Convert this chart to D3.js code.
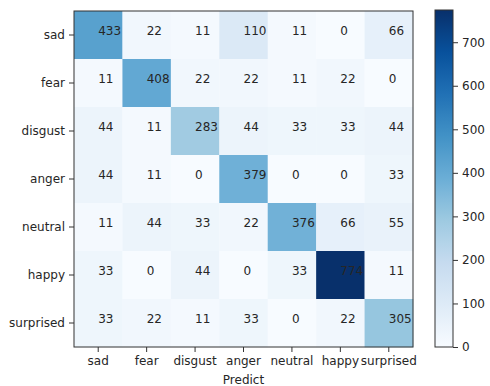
<!DOCTYPE html>
<html>
<head>
<meta charset="utf-8">
<script src="https://cdn.jsdelivr.net/npm/d3@7"></script>
<style>
  html, body { margin: 0; padding: 0; background: #fff; }
  svg { display: block; font-family: "DejaVu Sans", sans-serif; }
</style>
</head>
<body>
<svg id="chart" width="490" height="386"></svg>
<script>
// Emotion classes (true rows, predicted columns)
const labels = ["sad", "fear", "disgust", "anger", "neutral", "happy", "surprised"];

// Confusion-matrix counts, one array per true class
const sadRow       = [433, 22, 11, 110, 11, 0, 66];
const fearRow      = [11, 408, 22, 22, 11, 22, 0];
const disgustRow   = [44, 11, 283, 44, 33, 33, 44];
const angerRow     = [44, 11, 0, 379, 0, 0, 33];
const neutralRow   = [11, 44, 33, 22, 376, 66, 55];
const happyRow     = [33, 0, 44, 0, 33, 774, 11];
const surprisedRow = [33, 22, 11, 33, 0, 22, 305];

const colorbarTicks = [0, 100, 200, 300, 400, 500, 600, 700];
const xTitle = "Predict";

const matrix = [sadRow, fearRow, disgustRow, angerRow, neutralRow, happyRow, surprisedRow];
const cells = [];
matrix.forEach((row, i) => row.forEach((v, j) => cells.push({ r: labels[i], c: labels[j], v })));

const vmax = d3.max(cells, d => d.v);

// Blues ramp, interpolated linearly between the 9 ColorBrewer stops
const blues = d3.schemeBlues[9];
const stopScale = d3.scaleLinear().domain(d3.range(9).map(k => k / 8)).range(blues)
  .interpolate(d3.interpolateRgb).clamp(true);
const color = v => stopScale(v / vmax);

const svg = d3.select("#chart");
const L = 74, R = 413, T = 11, B = 347;
const textColor = "#262626";
const fontSize = 12;

const x = d3.scaleBand().domain(labels).range([L, R]);
const y = d3.scaleBand().domain(labels).range([T, B]);

// Heatmap cells
svg.append("g").selectAll("rect").data(cells).join("rect")
  .attr("x", d => x(d.c)).attr("y", d => y(d.r))
  .attr("width", x.bandwidth() + 0.3).attr("height", y.bandwidth() + 0.3)
  .attr("fill", d => color(d.v));

// Cell values: left edge and baseline sit at the cell centre
svg.append("g").selectAll("text").data(cells).join("text")
  .attr("x", d => x(d.c) + x.bandwidth() / 2)
  .attr("y", d => y(d.r) + y.bandwidth() / 2)
  .attr("font-size", fontSize).attr("fill", textColor)
  .text(d => d.v);

// Frame
svg.append("rect").attr("x", L).attr("y", T).attr("width", R - L).attr("height", B - T)
  .attr("fill", "none").attr("stroke", "#333").attr("stroke-width", 1);

function styleAxis(g) {
  g.select(".domain").remove();
  g.selectAll(".tick line").attr("stroke", "#333");
  g.selectAll(".tick text").attr("font-size", fontSize).attr("fill", textColor)
    .attr("font-family", "DejaVu Sans, sans-serif");
}

svg.append("g").attr("transform", `translate(0,${B})`)
  .call(d3.axisBottom(x).tickSize(5).tickPadding(4))
  .call(styleAxis);

svg.append("g").attr("transform", `translate(${L},0)`)
  .call(d3.axisLeft(y).tickSize(5).tickPadding(4))
  .call(styleAxis);

svg.append("text").attr("x", (L + R) / 2).attr("y", 384)
  .attr("text-anchor", "middle").attr("font-size", fontSize).attr("fill", textColor)
  .text(xTitle);

// Colorbar
const cbL = 435, cbW = 18, cbT = 10, cbB = 347;
const cy = d3.scaleLinear().domain([0, vmax]).range([cbB, cbT]);
const defs = svg.append("defs");
const grad = defs.append("linearGradient").attr("id", "cbGrad")
  .attr("x1", 0).attr("y1", 1).attr("x2", 0).attr("y2", 0);
d3.range(0, 1.0001, 1 / 32).forEach(t => {
  grad.append("stop").attr("offset", t).attr("stop-color", stopScale(t));
});
svg.append("rect").attr("x", cbL).attr("y", cbT).attr("width", cbW).attr("height", cbB - cbT)
  .attr("fill", "url(#cbGrad)").attr("stroke", "#333").attr("stroke-width", 1);
svg.append("g").attr("transform", `translate(${cbL + cbW},0)`)
  .call(d3.axisRight(cy).tickValues(colorbarTicks).tickSize(5).tickPadding(4))
  .call(styleAxis);
</script>
</body>
</html>
